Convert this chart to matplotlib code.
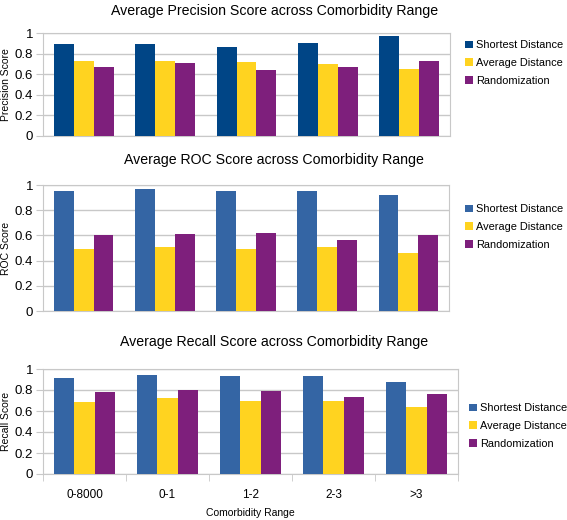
import matplotlib
matplotlib.use("Agg")
import matplotlib.pyplot as plt
import numpy as np

plt.rcParams["font.family"] = ["Liberation Sans", "DejaVu Sans"]

categories = ["0-8000", "0-1", "1-2", "2-3", ">3"]
series_names = ["Shortest Distance", "Average Distance", "Randomization"]

precision_shortest = [0.89, 0.89, 0.86, 0.90, 0.97]
precision_average = [0.73, 0.73, 0.72, 0.70, 0.65]
precision_random = [0.67, 0.71, 0.64, 0.67, 0.73]

roc_shortest = [0.95, 0.97, 0.95, 0.95, 0.92]
roc_average = [0.49, 0.51, 0.49, 0.51, 0.46]
roc_random = [0.60, 0.61, 0.62, 0.56, 0.60]

recall_shortest = [0.91, 0.94, 0.93, 0.93, 0.88]
recall_average = [0.69, 0.72, 0.70, 0.70, 0.64]
recall_random = [0.78, 0.80, 0.79, 0.73, 0.76]

YELLOW = "#ffd320"
PURPLE = "#7e1f7c"
GRID = "#c8c8c8"

panels = [
    dict(title="Average Precision Score across Comorbidity Range", ylabel="Precision Score",
         data=[precision_shortest, precision_average, precision_random],
         colors=["#004586", YELLOW, PURPLE],
         rect=[43 / 567, 1 - 136 / 520, 407 / 567, 103 / 520], title_y=1 - 11 / 520,
         legend_x=461 / 567, legend_y=1 - 47 / 520),
    dict(title="Average ROC Score across Comorbidity Range", ylabel="ROC Score",
         data=[roc_shortest, roc_average, roc_random],
         colors=["#3465a4", YELLOW, PURPLE],
         rect=[43 / 567, 1 - 311 / 520, 406 / 567, 126 / 520], title_y=1 - 160 / 520,
         legend_x=461 / 567, legend_y=1 - 211 / 520),
    dict(title="Average Recall Score across Comorbidity Range", ylabel="Recall Score",
         data=[recall_shortest, recall_average, recall_random],
         colors=["#3465a4", YELLOW, PURPLE],
         rect=[43 / 567, 1 - 474 / 520, 415 / 567, 105 / 520], title_y=1 - 342 / 520,
         legend_x=465 / 567, legend_y=1 - 410 / 520),
]

fig = plt.figure(figsize=(5.67, 5.2), dpi=100)
x = np.arange(len(categories))
w = 0.245

for i, p in enumerate(panels):
    ax = fig.add_axes(p["rect"])
    for j, (vals, col) in enumerate(zip(p["data"], p["colors"])):
        ax.bar(x + (j - 1) * w, vals, width=w, color=col, label=series_names[j], zorder=3)
    ax.set_xlim(-0.5, len(categories) - 0.5)
    ax.set_ylim(0, 1)
    ax.set_yticks([0, 0.2, 0.4, 0.6, 0.8, 1.0])
    ax.set_yticklabels(["0", "0.2", "0.4", "0.6", "0.8", "1"], fontsize=9.5)
    ax.yaxis.grid(True, color=GRID, linewidth=1, zorder=0)
    ax.tick_params(axis="y", length=5, color=GRID, pad=2)
    for s in ax.spines.values():
        s.set_color(GRID)
    ax.set_ylabel(p["ylabel"], fontsize=7.5)
    ax.yaxis.set_label_coords(-32 / (p["rect"][2] * 567), 0.5)

    if i == 2:
        ax.set_xticks(x)
        ax.set_xticklabels(categories, fontsize=8.5)
        ax.tick_params(axis="x", which="major", length=0, pad=11)
        ax.set_xticks(np.arange(-0.5, len(categories)), minor=True)
        ax.tick_params(axis="x", which="minor", length=5, color=GRID)
        ax.set_xlabel("Comorbidity Range", fontsize=7.5, labelpad=5)
    else:
        ax.set_xticks([])

    fig.text(0.484, p["title_y"], p["title"], ha="center", va="center", fontsize=10.2)
    fig.legend(*ax.get_legend_handles_labels(), loc="upper left",
               bbox_to_anchor=(p["legend_x"], p["legend_y"] + 11 / 520),
               frameon=False, fontsize=7.9, handlelength=0.7, handleheight=0.7,
               handletextpad=0.25, labelspacing=0.7, borderaxespad=0)

fig.savefig("out.png", dpi=100)
